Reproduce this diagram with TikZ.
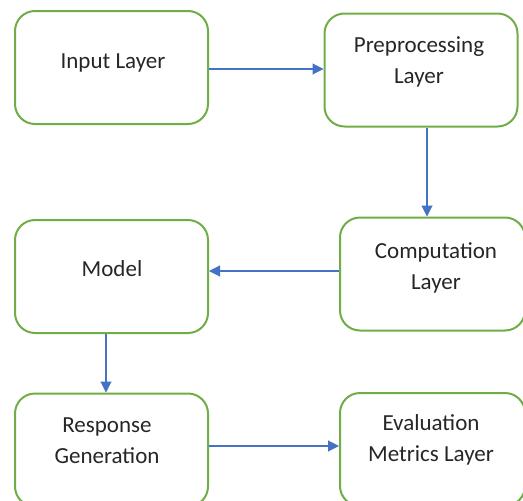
\documentclass[tikz,border=0pt]{standalone}
\usepackage{fontspec}
\setmainfont{Carlito}
\usetikzlibrary{arrows.meta}
\definecolor{boxgreen}{HTML}{70AD47}
\definecolor{arrblue}{HTML}{4472C4}
\begin{document}
\begin{tikzpicture}[x=1pt,y=-1pt,
  box/.style={draw=boxgreen,line width=2pt,rounded corners=20pt,inner sep=0pt,minimum width=193pt,minimum height=113pt},
  txt/.style={font=\fontsize{23}{31}\selectfont,text=black!85,align=center,anchor=base,inner sep=0pt},
  arrow/.style={draw=arrblue,line width=1.1pt,-{Triangle[length=11pt,width=11pt]}}]
\useasboundingbox (0,0) rectangle (523,501);
\clip (0,0) rectangle (523,501);
\node[box] (inp) at (111.5,67.5) {};
\node[box] (pre) at (421,70) {};
\node[box] (mod) at (111.5,276.5) {};
\node[box,minimum width=185pt] (comp) at (432.5,274) {};
\node[box] (resp) at (111.5,450) {};
\node[box,minimum width=185pt] (eval) at (432.5,449.5) {};
\node[txt] (inpT) at (113,68) {Input Layer};
\node[txt] (preT) at (419,83) {Preprocessing\\Layer};
\node[txt] (modT) at (112,276) {Model};
\node[txt] (compT) at (436,289) {Computation\\Layer};
\node[txt] (respT) at (107,463) {Response\\Generation};
\node[txt] (evalT) at (431,461) {Evaluation\\Metrics Layer};
\draw[arrow] (inp.east |- 0,69) -- (pre.west |- 0,69);
\draw[arrow] (pre.south -| 427,0) -- (comp.north -| 427,0);
\draw[arrow] (comp.west |- 0,271) -- (mod.east |- 0,271);
\draw[arrow] (mod.south -| 106,0) -- (resp.north -| 106,0);
\draw[arrow] (resp.east |- 0,446) -- (eval.west |- 0,446);
\end{tikzpicture}
\end{document}
